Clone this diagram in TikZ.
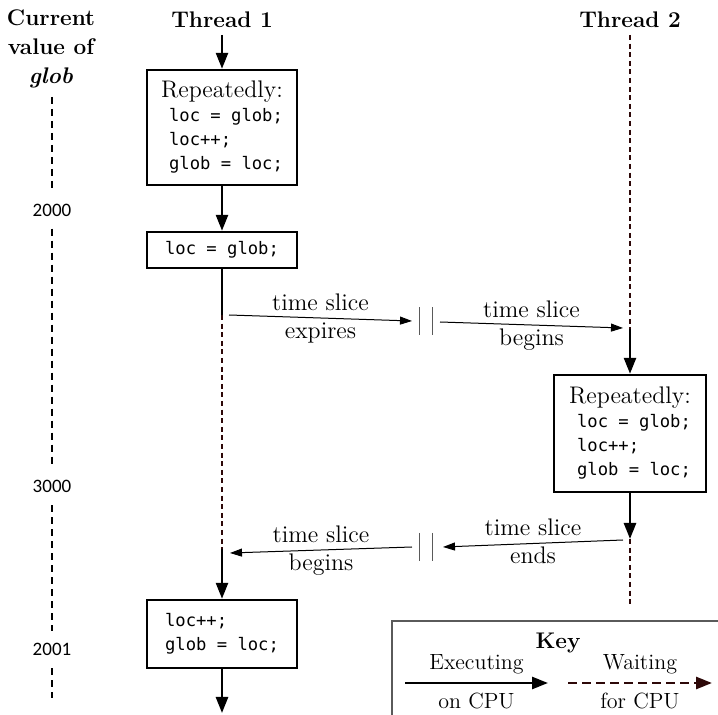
\documentclass[tikz,border=0pt]{standalone}
\usepackage{fontspec}
\setmonofont{DejaVu Sans Mono}
\newfontfamily\numfont{Carlito}
\usetikzlibrary{arrows.meta}

\definecolor{waitred}{RGB}{45,8,8}
\definecolor{keygray}{RGB}{90,90,90}

\tikzset{
  exec/.style={line width=1.3pt, -{Triangle[length=8pt,width=6pt]}},
  execline/.style={line width=1.3pt},
  waiting/.style={line width=1.35pt, color=waitred, dash pattern=on 2.5pt off 1.8pt},
  codebox/.style={draw, line width=1.2pt, minimum width=75pt, align=left, inner sep=0pt, font=\fontsize{12}{12}\selectfont},
  slicearrow/.style={line width=0.5pt, -{Triangle[length=6pt,width=4pt]}},
  slicetext/.style={font=\fontsize{12}{12}\selectfont, inner sep=0pt, text height=8.5pt, text depth=2.5pt},
  gapbar/.style={line width=0.5pt, keygray},
  valline/.style={line width=0.6pt, dash pattern=on 3.5pt off 2.5pt},
  valtext/.style={font=\numfont\fontsize{9.5}{11}\selectfont, inner sep=6pt},
  header/.style={font=\bfseries\fontsize{11.3}{14.5}\selectfont, align=center, inner sep=0pt},
  keyframe/.style={line width=0.75pt, keygray},
  keytext/.style={font=\fontsize{11}{11}\selectfont, inner sep=0pt, text height=8pt, text depth=2.3pt},
  brk/.pic={\draw[gapbar] (-6.5,-14) -- (-6.5,14) (6.5,-14) -- (6.5,14);},
}
\newcommand{\cd}[1]{{\ttfamily\fontsize{8.6}{12}\selectfont #1}}

\begin{document}
\begin{tikzpicture}[x=0.5pt, y=-0.5pt]
    \useasboundingbox (0,0) rectangle (718,715);

    % 見出し
    \node[header] (curval) at (51,49) {Current\\value of\\\textit{glob}};
    \node[header] (thrA) at (222,19.5) {Thread 1};
    \node[header] (thrB) at (630,19.5) {Thread 2};

    % glob の値 (左の破線)
    \coordinate (vtop) at (52,97);
    \coordinate (vbot) at (52,698);
    \node[valtext] (v2000) at (52,210) {2000};
    \node[valtext] (v3000) at (52,486.5) {3000};
    \node[valtext] (v2001) at (52,649.5) {2001};
    \draw[valline] (vtop) -- (v2000) -- (v3000) -- (v2001) -- (vbot);

    % スレッド 1
    \coordinate (a0) at (222,35);
    \node[codebox, minimum height=57.5pt] (a1) at (222,127.5)
        {Repeatedly:\\\hspace*{4pt}\cd{loc = glob;}\\\hspace*{4pt}\cd{loc++;}\\\hspace*{4pt}\cd{glob = loc;}};
    \node[codebox, minimum height=18pt, align=center] (a2) at (222,250) {\cd{loc = glob;}};
    \coordinate (a2s) at (222,315);
    \coordinate (a2w) at (222,549);
    \node[codebox, minimum height=34pt] (a3) at (222,634) {\cd{loc++;}\\\cd{glob = loc;}};
    \coordinate (aend) at (222,713);
    \draw[exec] (a0) -- (a1);
    \draw[exec] (a1) -- (a2);
    \draw[execline] (a2) -- (a2s);
    \draw[waiting] (a2s) -- (a2w);
    \draw[exec] (a2w) -- (a3);
    \draw[exec] (a3) -- (aend);

    % スレッド 2
    \coordinate (b0) at (630,35);
    \coordinate (b0s) at (630,329);
    \node[codebox, minimum width=76pt, minimum height=58.5pt] (b1) at (630,433.5)
        {Repeatedly:\\\hspace*{4pt}\cd{loc = glob;}\\\hspace*{4pt}\cd{loc++;}\\\hspace*{4pt}\cd{glob = loc;}};
    \coordinate (b1e) at (630,539);
    \coordinate (bend) at (630,605);
    \draw[waiting] (b0) -- (b0s);
    \draw[exec] (b0s) -- (b1);
    \draw[exec] (b1) -- (b1e);
    \draw[waiting] (b1e) -- (bend);

    % タイムスライス (1 -> 2)
    \coordinate (s1a) at (229,315);
    \coordinate (s1b) at (412,321);
    \coordinate (gap1) at (425.5,321.5);
    \coordinate (s2a) at (440,322);
    \coordinate (s2b) at (623,328);
    \draw[slicearrow] (s1a) -- (s1b)
        node[slicetext, midway, above=1pt] {time slice}
        node[slicetext, midway, below=1.5pt] {expires};
    \pic at (gap1) {brk};
    \draw[slicearrow] (s2a) -- (s2b)
        node[slicetext, midway, above=1pt] {time slice}
        node[slicetext, midway, below=1.5pt] {begins};

    % タイムスライス (2 -> 1)
    \coordinate (s3a) at (623,540);
    \coordinate (s3b) at (443,547);
    \coordinate (gap2) at (425.5,547);
    \coordinate (s4a) at (412,547);
    \coordinate (s4b) at (230,553);
    \draw[slicearrow] (s3a) -- (s3b)
        node[slicetext, midway, above=1pt] {time slice}
        node[slicetext, midway, below=1.5pt] {ends};
    \pic at (gap2) {brk};
    \draw[slicearrow] (s4a) -- (s4b)
        node[slicetext, midway, above=1pt] {time slice}
        node[slicetext, midway, below=1.5pt] {begins};

    % 凡例
    \draw[keyframe] (392,715) -- (392,621) -- (718,621);
    \node[header] (key) at (558,643) {Key};
    \coordinate (k1a) at (405,683);
    \coordinate (k1b) at (548,683);
    \coordinate (k2a) at (568,683);
    \coordinate (k2b) at (712,683);
    \draw[exec] (k1a) -- (k1b)
        node[keytext, midway, above=4pt] {Executing}
        node[keytext, midway, below=4pt] {on CPU};
    \draw[waiting, dash pattern=on 4.5pt off 2.5pt, -{Triangle[length=8pt,width=6pt]}] (k2a) -- (k2b)
        node[keytext, midway, above=4pt, black] {Waiting}
        node[keytext, midway, below=4pt, black] {for CPU};
\end{tikzpicture}
\end{document}
